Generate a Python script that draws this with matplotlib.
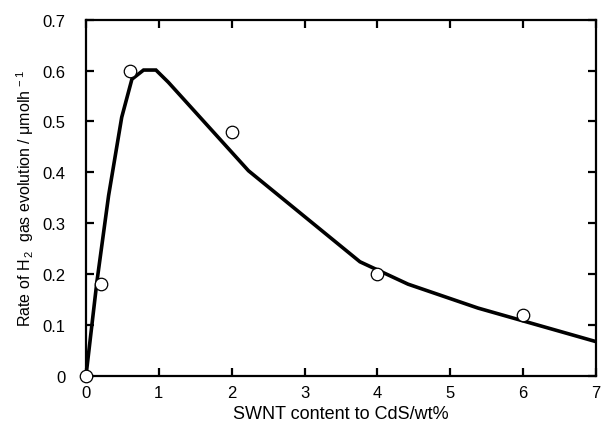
import matplotlib
matplotlib.use("Agg")
import matplotlib.pyplot as plt
from matplotlib.ticker import FuncFormatter

plt.rcParams["font.family"] = ["Liberation Sans", "DejaVu Sans"]
plt.rcParams["mathtext.default"] = "regular"

# measured points
swnt_pts = [0, 0.2, 0.6, 2, 4, 6]
rate_pts = [0, 0.18, 0.60, 0.48, 0.20, 0.12]

# fitted curve
swnt_fit = [0, 0.15, 0.31, 0.49, 0.63, 0.79, 0.96, 1.13, 2.23, 3.76, 4.42, 5.38, 7.0]
rate_fit = [0, 0.185, 0.354, 0.508, 0.583, 0.601, 0.601, 0.577, 0.403, 0.224, 0.180, 0.133, 0.067]

fig = plt.figure(figsize=(6.05, 4.27), dpi=100)
ax = fig.add_axes([86 / 605, 1 - 376.7 / 427, 510 / 605, 356 / 427])

ax.plot(swnt_fit, rate_fit, color="black", lw=2.6, solid_joinstyle="miter", zorder=2)
ax.plot(swnt_pts, rate_pts, "o", ms=9, mfc="white", mec="black", mew=0.9,
        clip_on=False, zorder=3)

ax.set_xlim(0, 7)
ax.set_ylim(0, 0.7)
ax.set_xticks(range(0, 8))
ax.set_yticks([0, 0.1, 0.2, 0.3, 0.4, 0.5, 0.6, 0.7])
ax.yaxis.set_major_formatter(FuncFormatter(lambda v, p: "0" if v == 0 else f"{v:.1f}"))

for s in ax.spines.values():
    s.set_linewidth(1.6)
ax.tick_params(direction="in", length=5.5, width=1.6, top=True, right=True,
               labelsize=12)
ax.tick_params(axis="x", pad=7)
ax.tick_params(axis="y", pad=15)

ax.set_xlabel("SWNT content to CdS/wt%", fontsize=13, labelpad=3)
ax.set_ylabel("Rate of H$_{\\,2}$  gas evolution / μmolh$^{\\,-1}$", fontsize=11.5, labelpad=4)

fig.savefig("out.png", dpi=100)
